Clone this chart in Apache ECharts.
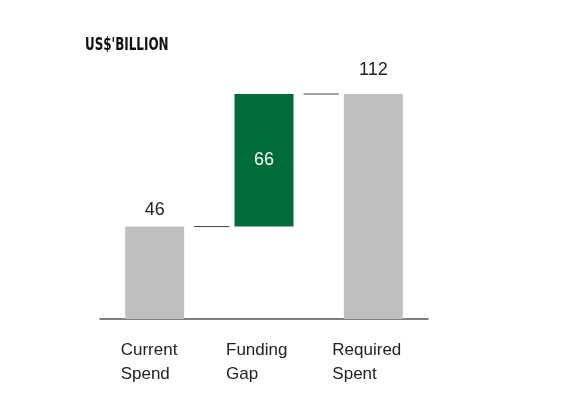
<!DOCTYPE html>
<html><head><meta charset="utf-8">
<script src="https://cdn.jsdelivr.net/npm/echarts@6/dist/echarts.min.js"></script>
<style>html,body{margin:0;padding:0;background:#fff}#c{width:575px;height:394px}</style>
</head><body><div id="c"></div>
<script>
const categories = ['Current\nSpend', 'Funding\nGap', 'Required\nSpent'];
const baseValues = [0, 46, 0];
const barValues = [46, 66, 112];
const barColors = ['#bfbfbf', '#006d38', '#bfbfbf'];
const labelPositions = ['top', 'inside', 'top'];
const connectors = [[0, 1, 46], [1, 2, 112]];
const unitTitle = "US$'BILLION";

const chart = echarts.init(document.getElementById('c'));
const font = 'Liberation Sans, Arial, sans-serif';
const labelWidths = [68, 76, 82];
const rich = {};
labelWidths.forEach((w, i) => {
  rich['a' + i] = {width: w, align: 'left', fontSize: 17, lineHeight: 24, fontFamily: font, color: '#222'};
});
chart.setOption({
  animation: false,
  graphic: [{
    type: 'text', left: 85, top: 37, scaleX: 0.78,
    style: {text: unitTitle, font: 'bold 17px "DejaVu Sans Condensed", sans-serif', fill: '#111'}
  }],
  grid: {left: 100, width: 328, top: 94, bottom: 75},
  xAxis: {
    type: 'category', data: categories,
    axisLine: {lineStyle: {color: '#555', width: 1.5}},
    axisTick: {show: false},
    axisLabel: {
      margin: 19,
      formatter: (v, i) => v.split('\n').map(s => '{a' + i + '|' + s + '}').join('\n'),
      rich: rich
    }
  },
  yAxis: {type: 'value', min: 0, max: 112, show: false, splitLine: {show: false}},
  series: [
    {type: 'bar', stack: 'w', data: baseValues, itemStyle: {color: 'transparent'}, barWidth: 59, silent: true},
    {type: 'bar', stack: 'w', barWidth: 59,
      data: barValues.map((v, i) => ({
        value: v,
        itemStyle: {color: barColors[i]},
        label: {show: true, position: labelPositions[i], distance: i === 2 ? 15 : 8,
          color: labelPositions[i] === 'inside' ? '#fff' : '#222',
          fontSize: 18, fontFamily: font}
      }))
    },
    {type: 'custom', data: connectors,
      renderItem: (params, api) => {
        const a = api.coord([api.value(0), api.value(2)]);
        const b = api.coord([api.value(1), api.value(2)]);
        const half = 59 / 2;
        return {type: 'line', shape: {x1: a[0] + half + 10, y1: a[1], x2: b[0] - half - 5, y2: b[1]},
          style: {stroke: '#444', lineWidth: 1}};
      },
      encode: {x: 0, y: 2}
    }
  ]
});
</script></body></html>
